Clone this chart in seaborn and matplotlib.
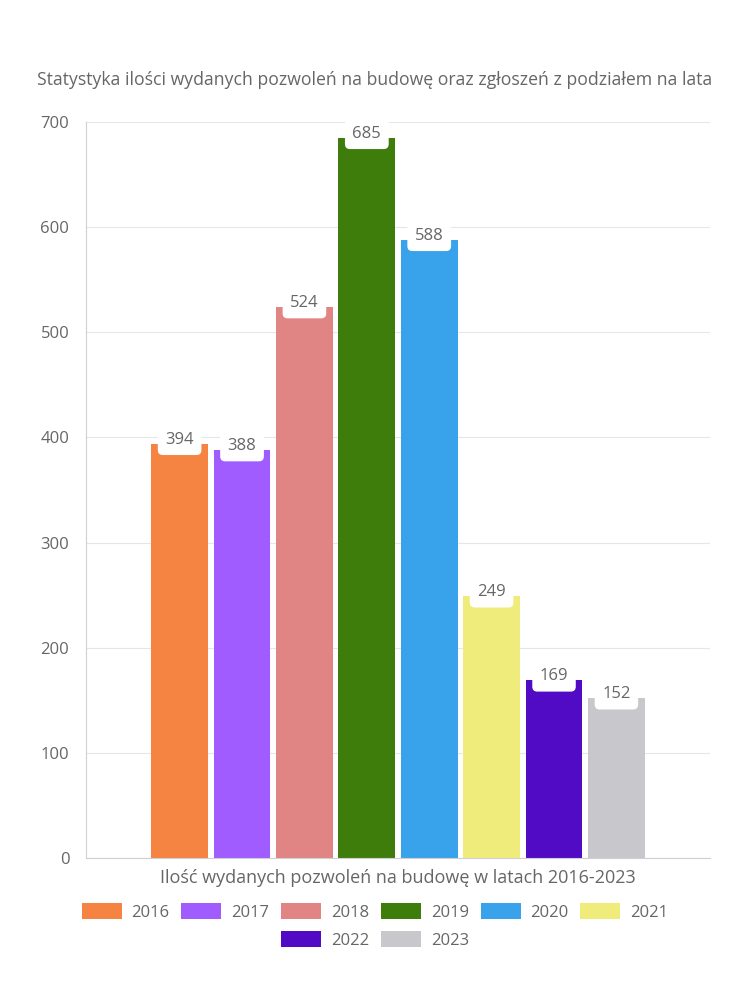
import matplotlib
matplotlib.use("Agg")
import matplotlib.pyplot as plt
import seaborn as sns
import pandas as pd
from matplotlib.patches import Patch

years = ["2016", "2017", "2018", "2019", "2020", "2021", "2022", "2023"]
values = [394, 388, 524, 685, 588, 249, 169, 152]
category = "Ilość wydanych pozwoleń na budowę w latach 2016-2023"
colors = ["#F58442", "#A05CFF", "#E08484", "#3E7D0B", "#38A3EB", "#F0EC7C", "#510BC4", "#C8C8CC"]
title = "Statystyka ilości wydanych pozwoleń na budowę oraz zgłoszeń z podziałem na lata"
yticks = [0, 100, 200, 300, 400, 500, 600, 700]

df = pd.DataFrame({"cat": [category] * len(years), "year": years, "value": values})

sns.set_style("white")
plt.rcParams["font.family"] = ["Open Sans", "DejaVu Sans"]
txt = "#666666"

fig = plt.figure(figsize=(7.5, 10), dpi=100)
ax = fig.add_axes([0.1147, 0.142, 0.832, 0.736])

sns.barplot(data=df, x="cat", y="value", hue="year", palette=colors,
            hue_order=years, width=0.8, gap=0.09, ax=ax, legend=False,
            saturation=1, linewidth=0)

ax.set_xlim(-0.5, 0.5)
ax.set_ylim(0, 700)
ax.set_yticks(yticks)
ax.set_yticklabels([str(v) for v in yticks], color=txt, fontsize=12)
ax.tick_params(axis="y", length=8, color="#d0d0d0", pad=4)
ax.tick_params(axis="x", length=0, pad=8, labelsize=13, labelcolor=txt)
ax.set_xlabel("")
ax.set_ylabel("")
ax.grid(axis="y", color="#e6e6e6", linewidth=0.8)
ax.set_axisbelow(True)
for s in ["top", "right"]:
    ax.spines[s].set_visible(False)
for s in ["left", "bottom"]:
    ax.spines[s].set_color("#d0d0d0")
    ax.spines[s].set_linewidth(0.8)

for bar, v in zip(ax.patches, values):
    cx = bar.get_x() + bar.get_width() / 2
    ax.text(cx, v + 4, str(v), ha="center", va="center", fontsize=12, color=txt,
            bbox=dict(boxstyle="round,pad=0.45,rounding_size=0.3", fc="white", ec="none"))

fig.text(0.5, 0.92, title, ha="center", va="center", fontsize=12.7, color=txt)

handles = [Patch(facecolor=c, edgecolor="none") for c in colors]
kw = dict(frameon=False, fontsize=12, handlelength=2.4, handleheight=1.1,
          columnspacing=0.7, handletextpad=0.6, labelcolor=txt, loc="center")
fig.legend(handles[:6], years[:6], ncol=6, bbox_to_anchor=(0.5, 0.088), **kw)
fig.legend(handles[6:], years[6:], ncol=2, bbox_to_anchor=(0.5, 0.06), **kw)

fig.savefig("out.png", dpi=100, facecolor="white")
